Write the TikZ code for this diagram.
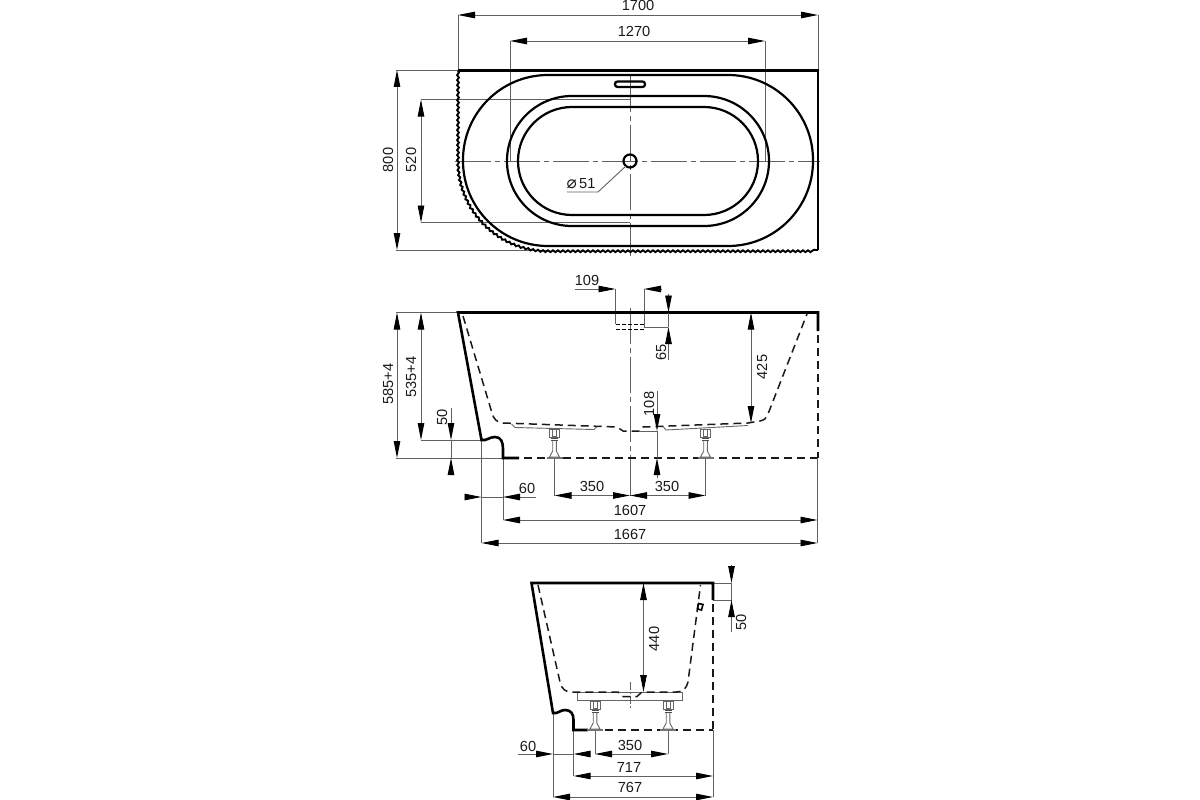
\documentclass[tikz,border=0pt]{standalone}
\usepackage{fontspec}
\setmainfont{Liberation Sans}
\newfontfamily\symfont{DejaVu Sans}
\usetikzlibrary{arrows.meta,decorations.pathmorphing}
\definecolor{dimgray}{gray}{0.38}
\tikzset{
  >={Triangle[length=17pt,width=6.5pt,black]},
  bodyline/.style={line width=2.6pt,black},
  tubline/.style={line width=2.2pt,black},
  hidden/.style={line width=1.5pt,black!90,dash pattern=on 8pt off 5pt},
  centerline/.style={line width=.8pt,dimgray,dash pattern=on 36pt off 4pt on 5pt off 4pt},
  dimline/.style={line width=.9pt,dimgray},
  thinbody/.style={line width=.9pt,black!60},
  dimtext/.style={font=\fontsize{14.6}{16}\selectfont,inner sep=0pt,black!90},
  tubleg/.pic={
    \draw[thinbody] (-5,-29) rectangle (5,-21);
    \draw[thinbody] (-2,-29) rectangle (2,-22);
    \draw[line width=1pt,black!70] (-3.5,-20) -- (3.5,-20);
    \draw[line width=1pt,black!70] (-3.5,-18) -- (3.5,-18);
    \draw[thinbody] (-1.8,-17) -- (-1.8,-7) -- (-5,-1) -- (5,-1) -- (1.8,-7) -- (1.8,-17);
    \draw[line width=1.2pt,black!55] (-8,0) -- (8,0);
  }
}
\begin{document}
\begin{tikzpicture}[x=1pt,y=-1pt]
\useasboundingbox (0,0) rectangle (1200,800);
% top view
\draw[dimline] (458,15) -- (458,70);
\draw[dimline] (818,15) -- (818,70);
\draw[dimline] (510,41) -- (510,161);
\draw[dimline] (765,41) -- (765,161);
\draw[dimline] (396,70) -- (458,70);
\draw[dimline] (396,250) -- (548,250);
\draw[dimline] (421,99.5) -- (630,99.5);
\draw[dimline] (421,222.5) -- (630,222.5);
\draw[centerline] (455,161) -- (820,161);
\draw[centerline] (630,76) -- (630,256);
\draw[bodyline] (458,70.5) -- (818,70.5) -- (818,250);
\draw[line width=1.9pt,decorate,decoration={snake,amplitude=.9pt,segment length=5pt}]
  (458,71) -- (458,160) arc[start angle=180,end angle=270,radius=90pt] -- (818,250);
\draw[tubline,rounded corners=85pt] (463,75) rectangle (813,246);
\draw[tubline,rounded corners=65pt] (507,96) rectangle (769,226);
\draw[tubline,rounded corners=54pt] (518,107) rectangle (758,215);
\draw[tubline,rounded corners=2.5pt] (615,81.5) rectangle (645,87);
\draw[tubline] (630,161) circle (6.5pt);
\draw[<->,dimline] (458,15) -- (818,15);
\draw[<->,dimline] (510,41) -- (765,41);
\draw[<->,dimline] (397,70) -- (397,250);
\draw[<->,dimline] (421,99.5) -- (421,222.5);
\draw[dimline] (567,192) -- (598,192) -- (626,166);
\node[dimtext] (w1700) at (638,5.8) {1700};
\node[dimtext] (w1270) at (634,31) {1270};
\node[dimtext,rotate=90] (d800) at (388,160) {800};
\node[dimtext,rotate=90] (d520) at (411,160) {520};
\node[dimtext] (drain) at (581,184) {{\symfont\fontsize{17}{17}\selectfont ⌀}\,51};
% side view
\draw[dimline] (396,312.5) -- (458,312.5);
\draw[dimline] (396,458) -- (503,458);
\draw[dimline] (421,440) -- (481.5,440);
\draw[dimline] (481.5,440) -- (481.5,543);
\draw[dimline] (503,458) -- (503,520);
\draw[dimline] (817.5,458) -- (817.5,543);
\draw[dimline] (615.5,289) -- (615.5,324);
\draw[dimline] (644,289) -- (644,327);
\draw[dimline] (644,327) -- (668,327);
\draw[dimline] (640,431) -- (657,431);
\draw[dimline] (554.5,458) -- (554.5,495.5);
\draw[dimline] (705.5,458) -- (705.5,495.5);
\draw[centerline] (630,308) -- (630,458);
\draw[dimline] (630,458) -- (630,495.5);
\draw[bodyline] (818,331) -- (818,312.5) -- (458,312.5)
  -- (481.5,440) .. controls (487,441) and (489,437) .. (495,437)
  .. controls (501,437) and (503,442) .. (503,449) -- (503,458) -- (519,458);
\draw[hidden] (524,458) -- (817,458);
\draw[hidden] (818,335) -- (818,458);
\draw[hidden] (463,316) -- (492,413) .. controls (494,420) and (497,422) .. (503,423)
  -- (617,427) -- (623,431) -- (640,431) -- (643,427) -- (748,423)
  -- (760,421) .. controls (764,420) and (766,419) .. (768,414) -- (807,314);
\draw[thinbody] (511.5,424) -- (515,427.5) -- (594,429.5) -- (596.5,427);
\draw[thinbody] (663.5,427) -- (666,430) -- (748,425.5);
\draw[line width=1pt,black,dash pattern=on 4pt off 2pt] (615.5,324) -- (644,324);
\draw[line width=1pt,black,dash pattern=on 4pt off 2pt] (615.5,329) -- (644,329);
\pic at (554.5,458) {tubleg};
\pic at (705.5,458) {tubleg};
\draw[->,dimline] (575,289) -- (615.5,289);
\draw[->,dimline] (662,289) -- (644,289);
\draw[->,dimline] (668.5,294) -- (668.5,312.5);
\draw[dimline] (668.5,312.5) -- (668.5,327);
\draw[->,dimline] (668.5,360) -- (668.5,327);
\draw[<->,dimline] (751,312.5) -- (751,423);
\draw[->,dimline] (657,391) -- (657,431);
\draw[dimline] (657,431) -- (657,458);
\draw[->,dimline] (657,478) -- (657,458);
\draw[<->,dimline] (397,312.5) -- (397,458);
\draw[<->,dimline] (421,312.5) -- (421,440);
\draw[->,dimline] (451,408) -- (451,440);
\draw[dimline] (451,440) -- (451,458);
\draw[->,dimline] (451,474) -- (451,458);
\draw[->,dimline] (467,497) -- (481.5,497);
\draw[dimline] (481.5,497) -- (503,497);
\draw[->,dimline] (536,497) -- (503,497);
\draw[<->,dimline] (554.5,495.5) -- (630,495.5);
\draw[<->,dimline] (630,495.5) -- (705.5,495.5);
\draw[<->,dimline] (503,520) -- (817.5,520);
\draw[<->,dimline] (481.5,543) -- (817.5,543);
\node[dimtext] (w109) at (587,280) {109};
\node[dimtext,rotate=90] (h65) at (661,352) {65};
\node[dimtext,rotate=90] (h425) at (762,367) {425};
\node[dimtext,rotate=90] (h108) at (649,404) {108};
\node[dimtext,rotate=90] (h585) at (388,384) {585+4};
\node[dimtext,rotate=90] (h535) at (411,377) {535+4};
\node[dimtext,rotate=90] (h50) at (442,417) {50};
\node[dimtext] (w60) at (527,488) {60};
\node[dimtext] (w350a) at (592,486) {350};
\node[dimtext] (w350b) at (667,486) {350};
\node[dimtext] (w1607) at (630,510) {1607};
\node[dimtext] (w1667) at (630,534) {1667};
% end view
\draw[dimline] (553,713) -- (553,797);
\draw[dimline] (573.5,730) -- (573.5,776);
\draw[dimline] (713,730) -- (713,797);
\draw[dimline] (595,730) -- (595,754);
\draw[dimline] (668,730) -- (668,754);
\draw[dimline] (713,583) -- (732,583);
\draw[dimline] (713,600) -- (732,600);
\draw[thinbody] (577.5,692.5) rectangle (682,700);
\draw[centerline,dash pattern=on 8pt off 2pt on 2pt off 2pt] (630,682) -- (630,708);
\draw[dimline] (623,692) -- (637,692);
\draw[bodyline] (713,600) -- (713,583) -- (531.5,583)
  -- (553,713) .. controls (558,714) and (560,710) .. (565,710)
  .. controls (571,710) and (573.5,714) .. (573.5,720) -- (573.5,730) -- (588,730);
\draw[hidden] (592,730) -- (713,730);
\draw[hidden] (713,604) -- (713,730);
\draw[hidden] (538,585) -- (560,682) .. controls (562,690) and (566,692) .. (572,692) -- (618,692)
  -- (622,696.5) -- (637,696.5) -- (642,692) -- (676,692)
  .. controls (683,692) and (686,689) .. (688,682) -- (700.5,585);
\draw[line width=1.6pt] (698.5,603.5) -- (703,604.5) -- (701.5,610) -- (697.5,609) -- cycle;
\pic at (595,730) {tubleg};
\pic at (668,730) {tubleg};
\draw[<->,dimline] (643.5,583) -- (643.5,692);
\draw[->,dimline] (731.5,565) -- (731.5,583);
\draw[dimline] (731.5,583) -- (731.5,600);
\draw[->,dimline] (731.5,632) -- (731.5,600);
\draw[->,dimline] (518,754) -- (553,754);
\draw[dimline] (553,754) -- (573.5,754);
\draw[->,dimline] (587,754) -- (573.5,754);
\draw[<->,dimline] (595,754) -- (668,754);
\draw[<->,dimline] (573.5,776) -- (713,776);
\draw[<->,dimline] (553,797) -- (713,797);
\node[dimtext,rotate=90] (h440) at (654,639) {440};
\node[dimtext,rotate=90] (h50b) at (741,622) {50};
\node[dimtext] (w60b) at (528,746) {60};
\node[dimtext] (w350c) at (630,745) {350};
\node[dimtext] (w717) at (629,767) {717};
\node[dimtext] (w767) at (630,787) {767};
\end{tikzpicture}
\end{document}
